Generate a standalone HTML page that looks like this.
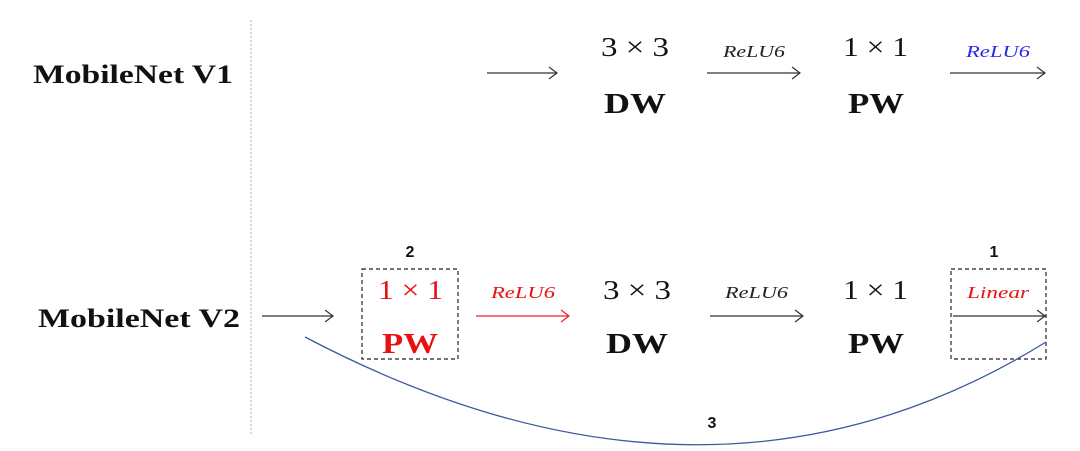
<!DOCTYPE html>
<html><head><meta charset="utf-8"><style>
html,body{margin:0;padding:0;background:#fff;width:1080px;height:451px;overflow:hidden}
svg{display:block}
.s{font-family:"Liberation Serif",serif}
.b{font-family:"Liberation Serif",serif;font-weight:bold}
.i{font-family:"Liberation Serif",serif;font-style:italic}
.n{font-family:"Liberation Sans",sans-serif}
</style></head><body>
<svg width="1080" height="451" viewBox="0 0 1080 451" xmlns="http://www.w3.org/2000/svg">
<line x1="251" y1="20" x2="251" y2="436" stroke="#9fb8d0" stroke-width="1" stroke-dasharray="2,2"/>
<g class="b" font-size="26" fill="#111" lengthAdjust="spacingAndGlyphs">
<text x="33" y="83" textLength="200" lengthAdjust="spacingAndGlyphs">MobileNet V1</text>
<text x="38" y="327" textLength="202" lengthAdjust="spacingAndGlyphs">MobileNet V2</text>
</g>
<g stroke="#333" stroke-width="1.2" fill="none">
<path d="M487 73H557M549 67L557 73L549 79"/>
<path d="M707 73H800M792 67L800 73L792 79"/>
<path d="M950 73H1045M1037 67L1045 73L1037 79"/>
<path d="M262 316H333M325 310L333 316L325 322"/>
<path d="M710 316H803M795 310L803 316L795 322"/>
<path d="M953 316H1045M1037 310L1045 316L1037 322"/>
</g>
<path d="M476 316H569M561 310L569 316L561 322" stroke="#e22" stroke-width="1.2" fill="none"/>
<g class="s" font-size="27" fill="#111">
<text x="601" y="56" textLength="68" lengthAdjust="spacingAndGlyphs">3 × 3</text>
<text x="843" y="56" textLength="65" lengthAdjust="spacingAndGlyphs">1 × 1</text>
<text x="603" y="299" textLength="68" lengthAdjust="spacingAndGlyphs">3 × 3</text>
<text x="843" y="299" textLength="65" lengthAdjust="spacingAndGlyphs">1 × 1</text>
</g>
<g class="b" font-size="28" fill="#111">
<text x="604" y="113" textLength="62" lengthAdjust="spacingAndGlyphs">DW</text>
<text x="848" y="113" textLength="56" lengthAdjust="spacingAndGlyphs">PW</text>
<text x="606" y="353" textLength="62" lengthAdjust="spacingAndGlyphs">DW</text>
<text x="848" y="353" textLength="56" lengthAdjust="spacingAndGlyphs">PW</text>
</g>
<text x="378" y="299" class="s" font-size="27" fill="#e81010" textLength="65" lengthAdjust="spacingAndGlyphs">1 × 1</text>
<text x="382" y="353" class="b" font-size="28" fill="#e81010" textLength="56" lengthAdjust="spacingAndGlyphs">PW</text>
<g class="i" font-size="17">
<text x="723" y="57" fill="#222" textLength="62" lengthAdjust="spacingAndGlyphs">ReLU6</text>
<text x="966" y="57" fill="#2a2ae8" textLength="64" lengthAdjust="spacingAndGlyphs">ReLU6</text>
<text x="491" y="298" fill="#e81010" textLength="64" lengthAdjust="spacingAndGlyphs">ReLU6</text>
<text x="725" y="298" fill="#222" textLength="63" lengthAdjust="spacingAndGlyphs">ReLU6</text>
<text x="967" y="298" fill="#e81010" textLength="62" lengthAdjust="spacingAndGlyphs">Linear</text>
</g>
<g stroke="#222" stroke-width="1.2" fill="none" stroke-dasharray="4,3">
<rect x="362" y="269" width="96" height="90"/>
<rect x="951" y="269" width="95" height="90"/>
</g>
<path d="M305 337 Q710 550 1046 342" stroke="#3b5a9a" stroke-width="1.3" fill="none"/>
<g class="n" font-size="16" font-weight="bold" fill="#111" text-anchor="middle">
<text x="410" y="257">2</text>
<text x="994" y="257">1</text>
<text x="712" y="428">3</text>
</g>
</svg>
</body></html>
